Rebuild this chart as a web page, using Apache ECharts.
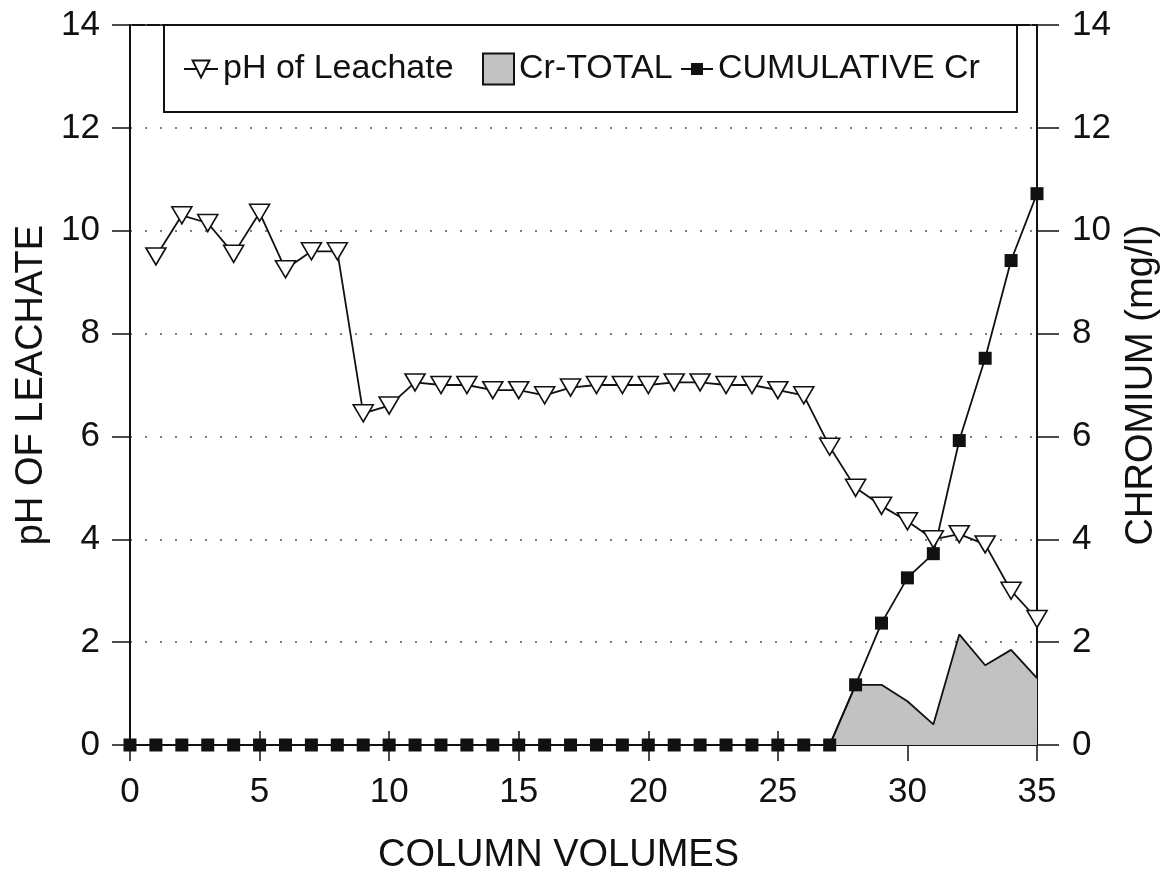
<!DOCTYPE html>
<html>
<head>
<meta charset="utf-8">
<script src="https://cdn.jsdelivr.net/npm/echarts@6/dist/echarts.min.js"></script>
<style>
  html, body { margin: 0; padding: 0; background: #ffffff; }
  #chart { width: 1169px; height: 880px; }
</style>
</head>
<body>
<div id="chart"></div>
<script>
// ---- data ----
var phVolumes = [1, 2, 3, 4, 5, 6, 7, 8, 9, 10, 11, 12, 13, 14, 15, 16, 17, 18, 19, 20, 21, 22, 23, 24, 25, 26, 27, 28, 29, 30, 31, 32, 33, 34, 35];
var phValues = [9.5, 10.3, 10.15, 9.55, 10.35, 9.25, 9.6, 9.6, 6.45, 6.6, 7.05, 7.0, 7.0, 6.9, 6.9, 6.8, 6.95, 7.0, 7.0, 7.0, 7.05, 7.05, 7.0, 7.0, 6.9, 6.8, 5.8, 5.0, 4.65, 4.35, 4.0, 4.1, 3.9, 3.0, 2.45];

var crTotalVolumes = [27, 28, 29, 30, 31, 32, 33, 34, 35];
var crTotalValues = [0, 1.17, 1.17, 0.85, 0.4, 2.15, 1.55, 1.85, 1.3];

var cumVolumes = [0, 1, 2, 3, 4, 5, 6, 7, 8, 9, 10, 11, 12, 13, 14, 15, 16, 17, 18, 19, 20, 21, 22, 23, 24, 25, 26, 27, 28, 29, 30, 31, 32, 33, 34, 35];
var cumValues = [0, 0, 0, 0, 0, 0, 0, 0, 0, 0, 0, 0, 0, 0, 0, 0, 0, 0, 0, 0, 0, 0, 0, 0, 0, 0, 0, 0, 1.17, 2.37, 3.25, 3.72, 5.92, 7.52, 9.42, 10.72];

var seriesNames = ['pH of Leachate', 'Cr-TOTAL', 'CUMULATIVE Cr'];
var xTitle = 'COLUMN VOLUMES';
var yLeftTitle = 'pH OF LEACHATE';
var yRightTitle = 'CHROMIUM (mg/l)';

function pairs(xs, ys) {
  var out = [];
  for (var i = 0; i < xs.length; i++) out.push([xs[i], ys[i]]);
  return out;
}

var FONT = "'Liberation Sans', Arial, Helvetica, sans-serif";
var INK = '#111111';

var chart = echarts.init(document.getElementById('chart'), null, { renderer: 'canvas' });

var option = {
  backgroundColor: '#ffffff',
  animation: false,
  textStyle: { fontFamily: FONT, color: INK },
  grid: {
    left: 130, right: 129, top: 25, bottom: 133,
    show: true, borderColor: INK, borderWidth: 2, backgroundColor: 'transparent'
  },
  graphic: [{
    type: 'rect', z: 1,
    shape: { x: 164, y: 25, width: 853, height: 87 },
    style: { fill: '#ffffff', stroke: INK, lineWidth: 2 }
  }],
  legend: [
    {
      z: 10, left: 183, top: 52, padding: 0,
      data: [{ name: seriesNames[0] }],
      itemWidth: 34, itemHeight: 21, itemGap: 0,
      textStyle: { fontFamily: FONT, fontSize: 34, color: INK, lineHeight: 34 }
    },
    {
      z: 10, left: 482, top: 52, padding: 0,
      data: [{ name: seriesNames[1], icon: 'rect' }],
      itemWidth: 31, itemHeight: 31, itemGap: 0,
      textStyle: { fontFamily: FONT, fontSize: 34, color: INK, lineHeight: 34 }
    },
    {
      z: 10, left: 680, top: 52, padding: 0,
      data: [{ name: seriesNames[2] }],
      itemWidth: 32, itemHeight: 15, itemGap: 0,
      textStyle: { fontFamily: FONT, fontSize: 34, color: INK, lineHeight: 34 }
    }
  ],
  xAxis: [
    {
      type: 'value', min: 0, max: 35, interval: 5, position: 'bottom',
      name: xTitle, nameLocation: 'middle', nameGap: 92,
      nameTextStyle: { fontFamily: FONT, fontSize: 38, color: INK, padding: [0, 50, 0, 0] },
      axisLine: { show: true, onZero: false, lineStyle: { color: INK, width: 2 } },
      axisTick: { show: true, inside: false, length: 16, lineStyle: { color: INK, width: 1.5 } },
      axisLabel: { fontFamily: FONT, fontSize: 35, color: INK, margin: 30 },
      splitLine: { show: false }
    },
    {
      type: 'value', min: 0, max: 35, interval: 5, position: 'bottom',
      axisLine: { show: false },
      axisTick: { show: true, inside: true, length: 14, lineStyle: { color: INK, width: 1.5 } },
      axisLabel: { show: false },
      splitLine: { show: false }
    }
  ],
  yAxis: [
    {
      type: 'value', min: 0, max: 14, interval: 2, position: 'left',
      name: yLeftTitle, nameLocation: 'middle', nameGap: 74, nameRotate: 90,
      nameTextStyle: { fontFamily: FONT, fontSize: 38, color: INK },
      axisLine: { show: true, onZero: false, lineStyle: { color: INK, width: 2 } },
      axisTick: { show: true, inside: false, length: 18, lineStyle: { color: INK, width: 1.5 } },
      axisLabel: { fontFamily: FONT, fontSize: 35, color: INK, margin: 30 },
      splitLine: { show: true, lineStyle: { color: '#555555', width: 1.5, type: [2, 13] } }
    },
    {
      type: 'value', min: 0, max: 14, interval: 2, position: 'right',
      name: yRightTitle, nameLocation: 'middle', nameGap: 86, nameRotate: 90,
      nameTextStyle: { fontFamily: FONT, fontSize: 38, color: INK },
      axisLine: { show: true, onZero: false, lineStyle: { color: INK, width: 2 } },
      axisTick: { show: true, inside: false, length: 22, lineStyle: { color: INK, width: 1.5 } },
      axisLabel: { fontFamily: FONT, fontSize: 35, color: INK, margin: 35 },
      splitLine: { show: false }
    },
    {
      type: 'value', min: 0, max: 14, interval: 2, position: 'right',
      axisLine: { show: false },
      axisTick: { show: true, inside: true, length: 18, lineStyle: { color: INK, width: 1.5 } },
      axisLabel: { show: false },
      splitLine: { show: false }
    }
  ],
  series: [
    {
      name: seriesNames[1], type: 'line', xAxisIndex: 0, yAxisIndex: 1, z: 2,
      data: pairs(crTotalVolumes, crTotalValues),
      symbol: 'none', showSymbol: false,
      lineStyle: { color: INK, width: 1.8 },
      itemStyle: { color: '#c2c2c2', borderColor: INK, borderWidth: 1.5 },
      areaStyle: { color: '#c2c2c2', opacity: 1 }
    },
    {
      name: seriesNames[2], type: 'line', xAxisIndex: 0, yAxisIndex: 1, z: 3,
      data: pairs(cumVolumes, cumValues),
      symbol: 'rect', symbolSize: 13,
      lineStyle: { color: INK, width: 1.8 },
      itemStyle: { color: INK, borderColor: INK, borderWidth: 0 }
    },
    {
      name: seriesNames[0], type: 'line', xAxisIndex: 0, yAxisIndex: 0, z: 4,
      data: pairs(phVolumes, phValues),
      symbol: 'triangle', symbolRotate: 180, symbolSize: [20, 17],
      lineStyle: { color: INK, width: 1.8 },
      itemStyle: { color: '#ffffff', borderColor: INK, borderWidth: 1.6 }
    }
  ]
};

chart.setOption(option);
</script>
</body>
</html>
